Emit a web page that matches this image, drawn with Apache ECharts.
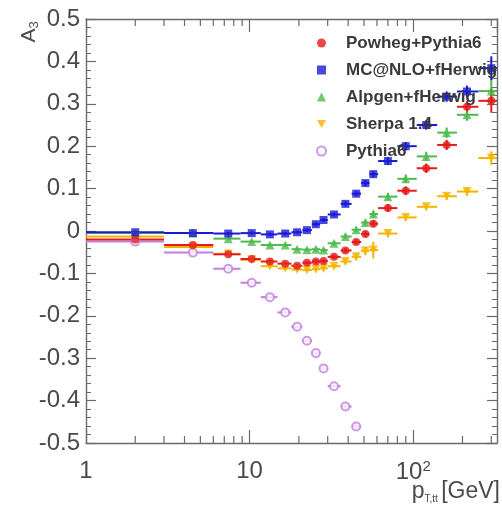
<!DOCTYPE html>
<html>
<head>
<meta charset="utf-8">
<script src="https://cdn.jsdelivr.net/npm/echarts@6/dist/echarts.min.js"></script>
<style>
  html, body { margin: 0; padding: 0; background: #ffffff; }
  #chart { width: 502px; height: 512px; }
</style>
</head>
<body>
<div id="chart"></div>
<script>
// Bin centres and bin edges in p (GeV)
const binCentres = [2, 4.5, 7.4, 10.3, 13.3, 16.5, 19.5, 22.4, 25.4, 28.3, 32.8, 38.5, 44.8, 51, 57, 70, 90, 120, 160, 213, 300];
const binEdges   = [1, 3, 6, 8.8, 11.7, 14.8, 18, 21, 24, 27, 30, 36, 42, 48, 54, 61, 80, 105, 140, 185, 250, 360];

// A3 per bin for each generator
const powheg  = [-0.020, -0.033, -0.055, -0.066, -0.072, -0.077, -0.082, -0.075, -0.072, -0.071, -0.061, -0.046, -0.026, -0.007, 0.017, 0.054, 0.095, 0.148, 0.203, 0.293, 0.307];
const mcatnlo = [-0.003, -0.005, -0.006, -0.005, -0.008, -0.006, -0.003, 0.002, 0.016, 0.026, 0.039, 0.064, 0.088, 0.113, 0.134, 0.165, 0.200, 0.250, 0.317, 0.329, 0.384];
const alpgen  = [-0.005, -0.005, -0.018, -0.025, -0.033, -0.033, -0.043, -0.044, -0.043, -0.045, -0.029, -0.013, 0.003, 0.020, 0.040, 0.081, 0.123, 0.176, 0.232, 0.274, 0.330];
const sherpa  = [-0.013, -0.038, -0.054, -0.068, -0.083, -0.088, -0.091, -0.092, -0.090, -0.088, -0.083, -0.072, -0.061, -0.047, -0.045, -0.006, 0.032, 0.057, 0.082, 0.093, 0.172];
const pythia6 = [-0.025, -0.051, -0.089, -0.122, -0.156, -0.192, -0.226, -0.259, -0.288, -0.324, -0.366, -0.414, -0.461];

// Statistical uncertainties per bin
const statErr    = [0.002, 0.003, 0.004, 0.004, 0.004, 0.004, 0.004, 0.004, 0.005, 0.005, 0.005, 0.006, 0.006, 0.007, 0.008, 0.009, 0.010, 0.011, 0.012, 0.014, 0.028];
const sherpaErr  = [0.002, 0.003, 0.004, 0.004, 0.004, 0.004, 0.004, 0.005, 0.005, 0.006, 0.006, 0.007, 0.008, 0.010, 0.020, 0.009, 0.008, 0.008, 0.009, 0.010, 0.016];
const pythiaErr  = [0.002, 0.003, 0.004, 0.004, 0.004, 0.004, 0.004, 0.004, 0.005, 0.005, 0.005, 0.006, 0.006];

// Axis tick values and labels
const xMajorTicks = [1, 10, 100];
const xTickLabels = ['1', '10', '10{sup|2}'];
const xMinorTicks = [2, 3, 4, 5, 6, 7, 8, 9, 20, 30, 40, 50, 60, 70, 80, 90, 200, 300];

const INVERTED_TRIANGLE = 'path://M0,0 L10,0 L5,9 Z';

const models = [
  { name: 'Pythia6',         values: pythia6, errs: pythiaErr, color: '#c27ee0', symbol: 'emptyCircle', rotate: 0,   icon: 'emptyCircle' },
  { name: 'Sherpa 1.4',      values: sherpa,  errs: sherpaErr, color: '#f5b400', symbol: 'triangle',    rotate: 180, icon: INVERTED_TRIANGLE },
  { name: 'Alpgen+fHerwig',  values: alpgen,  errs: statErr,   color: '#4cba4c', symbol: 'triangle',    rotate: 0,   icon: 'triangle' },
  { name: 'Powheg+Pythia6',  values: powheg,  errs: statErr,   color: '#e41a1c', symbol: 'circle',      rotate: 0,   icon: 'circle' },
  { name: 'MC@NLO+fHerwig',  values: mcatnlo, errs: statErr,   color: '#1a1ad6', symbol: 'rect',        rotate: 0,   icon: 'rect' }
];
const legendOrder = ['Powheg+Pythia6', 'MC@NLO+fHerwig', 'Alpgen+fHerwig', 'Sherpa 1.4', 'Pythia6'];

const FONT = '"Liberation Sans", Arial, sans-serif';
const AXIS_COLOR = '#6a6a6a';
const LABEL_COLOR = '#4a4a4a';

// Horizontal bin-width bar plus vertical uncertainty bar, clipped to the plot area
function renderErrorBar(params, api) {
  const xc = api.value(0), y = api.value(1), lo = api.value(2), hi = api.value(3), e = api.value(4);
  const cs = params.coordSys;
  const pL = api.coord([lo, y]);
  const pR = api.coord([hi, y]);
  const x1 = Math.max(pL[0], cs.x);
  const x2 = Math.min(pR[0], cs.x + cs.width);
  const pT = api.coord([xc, y + e]);
  const pB = api.coord([xc, y - e]);
  const style = { stroke: api.visual('color'), lineWidth: 2 };
  return {
    type: 'group',
    children: [
      { type: 'line', shape: { x1: x1, y1: pL[1], x2: x2, y2: pR[1] }, style: style },
      { type: 'line', shape: { x1: pT[0], y1: pT[1], x2: pB[0], y2: pB[1] }, style: style }
    ]
  };
}

// Log-spaced minor ticks on the bottom and top frame
function renderMinorTick(params, api) {
  const cs = params.coordSys;
  const px = api.coord([api.value(0), 0])[0];
  const style = { stroke: AXIS_COLOR, lineWidth: 1.2 };
  const yb = cs.y + cs.height, yt = cs.y;
  return {
    type: 'group',
    children: [
      { type: 'line', shape: { x1: px, y1: yb, x2: px, y2: yb - 7 }, style: style },
      { type: 'line', shape: { x1: px, y1: yt, x2: px, y2: yt + 7 }, style: style }
    ]
  };
}

const series = [];
models.forEach(function (m) {
  series.push({
    name: m.name + ' uncertainty',
    type: 'custom',
    renderItem: renderErrorBar,
    itemStyle: { color: m.color },
    silent: true,
    z: 2,
    data: m.values.map(function (v, i) {
      return [binCentres[i], v, binEdges[i], binEdges[i + 1], m.errs[i]];
    })
  });
});
models.forEach(function (m) {
  series.push({
    name: m.name,
    type: 'scatter',
    symbol: m.symbol,
    symbolSize: m.symbol === 'triangle' ? 9 : 8,
    symbolRotate: m.rotate,
    itemStyle: m.symbol === 'emptyCircle'
      ? { color: m.color, borderColor: m.color, borderWidth: 1.5 }
      : { color: m.color },
    z: 3,
    data: m.values.map(function (v, i) { return [binCentres[i], v]; })
  });
});
series.push({
  name: 'minor ticks',
  type: 'custom',
  renderItem: renderMinorTick,
  silent: true,
  z: 4,
  data: xMinorTicks.map(function (v) { return [v, 0]; })
});

const xLabelFor = function (value) {
  const idx = xMajorTicks.indexOf(Math.round(value));
  return idx >= 0 ? xTickLabels[idx] : '';
};

const legendData = legendOrder.map(function (name) {
  const m = models.find(function (d) { return d.name === name; });
  return { name: name, icon: m.icon };
});

const chart = echarts.init(document.getElementById('chart'), null, { renderer: 'canvas' });
chart.setOption({
  backgroundColor: '#ffffff',
  animation: false,
  grid: { left: 86, right: 5, top: 19, bottom: 69 },
  xAxis: [
    {
      type: 'log', logBase: 10, min: 1, max: 325, position: 'bottom',
      axisLine: { onZero: false, lineStyle: { color: AXIS_COLOR, width: 1.4 } },
      axisTick: { inside: true, length: 13, lineStyle: { color: AXIS_COLOR, width: 1.2 } },
      minorTick: { show: false },
      splitLine: { show: false },
      axisLabel: {
        margin: 16, showMaxLabel: false, color: LABEL_COLOR, fontSize: 24, fontFamily: FONT,
        formatter: xLabelFor,
        rich: { sup: { fontSize: 15, color: LABEL_COLOR, fontFamily: FONT, verticalAlign: 'top', padding: [0, 0, 12, 0] } }
      }
    },
    {
      type: 'log', logBase: 10, min: 1, max: 325, position: 'top',
      axisLine: { onZero: false, lineStyle: { color: AXIS_COLOR, width: 1.4 } },
      axisTick: { inside: true, length: 13, lineStyle: { color: AXIS_COLOR, width: 1.2 } },
      minorTick: { show: false },
      splitLine: { show: false },
      axisLabel: { show: false }
    }
  ],
  yAxis: [
    {
      type: 'value', min: -0.5, max: 0.5, interval: 0.1, position: 'left',
      axisLine: { onZero: false, lineStyle: { color: AXIS_COLOR, width: 1.4 } },
      axisTick: { inside: true, length: 10, lineStyle: { color: AXIS_COLOR, width: 1.2 } },
      minorTick: { show: true, splitNumber: 5, length: 5, lineStyle: { color: AXIS_COLOR, width: 1 } },
      splitLine: { show: false },
      axisLabel: { margin: 6, color: LABEL_COLOR, fontSize: 24, fontFamily: FONT }
    },
    {
      type: 'value', min: -0.5, max: 0.5, interval: 0.1, position: 'right',
      axisLine: { onZero: false, lineStyle: { color: AXIS_COLOR, width: 1.4 } },
      axisTick: { inside: true, length: 10, lineStyle: { color: AXIS_COLOR, width: 1.2 } },
      minorTick: { show: true, splitNumber: 5, length: 5, lineStyle: { color: AXIS_COLOR, width: 1 } },
      splitLine: { show: false },
      axisLabel: { show: false }
    }
  ],
  legend: {
    orient: 'vertical',
    left: 311, top: 28,
    itemWidth: 9, itemHeight: 9, itemGap: 7,
    selectedMode: false,
    textStyle: { fontSize: 17, fontWeight: 'bold', color: '#3a3a3a', fontFamily: FONT, lineHeight: 20, padding: [0, 0, 0, 15] },
    data: legendData
  },
  graphic: [
    {
      type: 'text', x: 29, y: 32, rotation: Math.PI / 2,
      style: {
        text: '{a|A}{s|3}',
        align: 'center', verticalAlign: 'middle',
        rich: {
          a: { fontSize: 21, fontFamily: FONT, fill: LABEL_COLOR },
          s: { fontSize: 13, fontFamily: FONT, fill: LABEL_COLOR, padding: [10, 0, 0, 0] }
        }
      }
    },
    {
      type: 'text', x: 500, y: 492,
      style: {
        text: '{p|p}{s|T,tt} {p|[GeV]}',
        align: 'right', verticalAlign: 'middle',
        rich: {
          p: { fontSize: 23, fontFamily: FONT, fill: LABEL_COLOR },
          s: { fontSize: 10, fontFamily: FONT, fill: LABEL_COLOR, padding: [14, 0, 0, 0] }
        }
      }
    }
  ],
  series: series
});
</script>
</body>
</html>
